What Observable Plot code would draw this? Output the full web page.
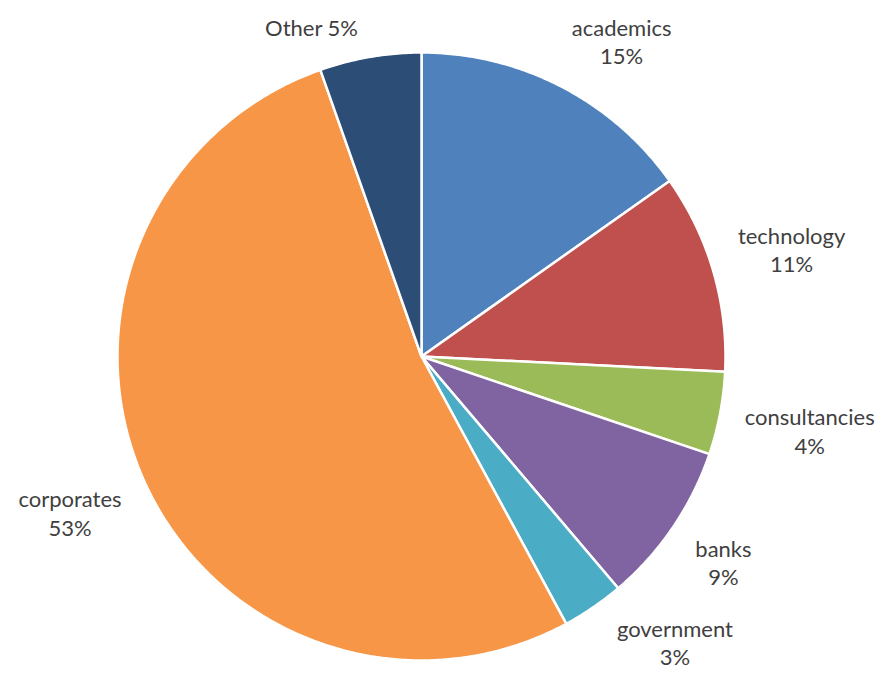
<!DOCTYPE html>
<html><head><meta charset="utf-8">
<script src="https://cdn.jsdelivr.net/npm/d3@7"></script>
<script src="https://cdn.jsdelivr.net/npm/@observablehq/plot@0.6"></script>
<style>body{margin:0;background:#fff}</style>
</head><body><div id="chart"></div>
<script>
const categories = ["academics","technology","consultancies","banks","government","corporates","Other"];
const values = [15.2, 10.6, 4.4, 8.6, 3.3, 52.5, 5.4];
const pctLabels = ["15%","11%","4%","9%","3%","53%","5%"];
const colors = ["#4F81BD","#C0504D","#9BBB59","#8064A2","#4BACC6","#F79646","#2C4D75"];

const W = 883, H = 675, R = 304, cx = 421, cy = 356;
const FONT = "Lato, 'Noto Sans', sans-serif", FS = 22, LH = 1.28;

const total = d3.sum(values);
let acc = 0;
const slices = categories.map((c, i) => {
  const a0 = acc / total * 2 * Math.PI; acc += values[i];
  const a1 = acc / total * 2 * Math.PI;
  return {c, i, a0, a1};
});
const polys = slices.map(s => {
  const pts = [{x:0,y:0}];
  const n = Math.max(2, Math.ceil((s.a1 - s.a0) / (Math.PI/360)));
  for (let k = 0; k <= n; k++) {
    const a = s.a0 + (s.a1 - s.a0) * k / n;
    pts.push({x: Math.sin(a), y: Math.cos(a)});
  }
  pts.push({x:0,y:0});
  return pts;
});
const ctx = document.createElement("canvas").getContext("2d");
ctx.font = `${FS}px ${FONT}`;
const labels = slices.map(s => {
  const single = s.c === "Other";
  const text = single ? `${s.c} ${pctLabels[s.i]}` : `${s.c}\n${pctLabels[s.i]}`;
  const lines = text.split("\n");
  const w = d3.max(lines, l => ctx.measureText(l).width);
  const h = lines.length * FS * LH;
  const m = (s.a0 + s.a1) / 2, ux = Math.sin(m), uy = Math.cos(m);
  const ext = Math.abs(ux) * w / 2 + Math.abs(uy) * h / 2;
  const rp = R + ext + 22;
  let px = ux * rp, py = uy * rp;
  const top = cy - h / 2 - 12, bottom = (H - cy) - h / 2 - 5;
  if (py > top || py < -bottom) {
    py = Math.max(-bottom, Math.min(top, py));
    px = Math.sign(ux) * Math.sqrt(Math.max(0, rp * rp - py * py));
  }
  return {text, x: px / R, y: py / R};
});

const chart = Plot.plot({
  width: W, height: H, margin: 0,
  x: {domain: [-cx / R, (W - cx) / R], range: [0, W], axis: null},
  y: {domain: [-(H - cy) / R, cy / R], range: [H, 0], axis: null},
  marks: [
    ...polys.map((p, i) => Plot.line(p, {x: "x", y: "y", fill: colors[i], stroke: "white", strokeWidth: 2.5, strokeLinejoin: "round", curve: "linear"})),
    Plot.text(labels, {x: "x", y: "y", text: "text", fill: "#404040", fontSize: FS, fontFamily: FONT, lineHeight: LH, textAnchor: "middle", lineAnchor: "middle"})
  ]
});
document.getElementById("chart").append(chart);
</script>
</body></html>
